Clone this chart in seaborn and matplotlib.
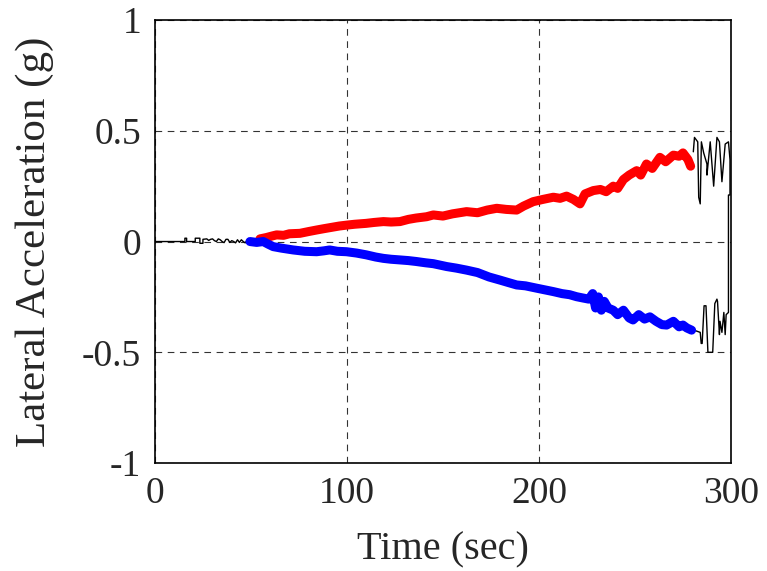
import pandas as pd
import matplotlib
matplotlib.use("Agg")
import matplotlib.pyplot as plt
import seaborn as sns

# curva positiva (rojo)
t_rojo = [54.7, 58, 61, 63.4, 67, 70, 75.5, 80, 84.2, 88, 92, 96, 99.8, 104, 110, 114, 119, 123,
          127.6, 132, 136, 141.5, 145, 150, 155, 162.3, 168, 173, 178, 183, 188.4, 192, 197, 202,
          207.5, 211, 214.4, 218, 221.4, 224, 228.3, 232, 235, 238.7, 241, 244, 247, 250.9, 253,
          256, 259, 263, 266, 270, 273, 275, 277.6, 279]
v_rojo = [0.012, 0.018, 0.025, 0.03, 0.028, 0.035, 0.037, 0.045, 0.052, 0.058, 0.064, 0.07, 0.074,
          0.078, 0.082, 0.086, 0.09, 0.088, 0.09, 0.1, 0.106, 0.112, 0.12, 0.115, 0.125, 0.135,
          0.13, 0.142, 0.15, 0.145, 0.142, 0.16, 0.18, 0.19, 0.2, 0.195, 0.205, 0.19, 0.17, 0.215,
          0.23, 0.235, 0.225, 0.25, 0.24, 0.28, 0.3, 0.32, 0.3, 0.35, 0.33, 0.38, 0.36, 0.39, 0.385,
          0.40, 0.37, 0.34]

# curva negativa (azul)
t_azul = [49.5, 53, 56.4, 59, 61.6, 66, 72, 78, 84.2, 88, 91, 95, 99.8, 105, 110, 115, 119, 123,
          127.6, 132, 136, 141, 145, 152, 157, 162.3, 168, 174, 179.7, 184, 188.4, 193, 198.5, 203,
          207.5, 212, 216, 219.6, 223, 226, 228, 229.5, 231, 232.5, 234, 236, 238.7, 241, 244, 247,
          249, 252, 255, 257.8, 261, 264, 266.5, 270, 273, 275, 277, 279.5]
v_azul = [0.0, -0.004, 0.0, -0.012, -0.023, -0.03, -0.038, -0.044, -0.046, -0.042, -0.038, -0.044,
          -0.046, -0.052, -0.06, -0.07, -0.076, -0.08, -0.083, -0.086, -0.09, -0.096, -0.1, -0.113,
          -0.12, -0.129, -0.14, -0.16, -0.174, -0.185, -0.196, -0.2, -0.21, -0.218, -0.226, -0.235,
          -0.24, -0.249, -0.255, -0.26, -0.235, -0.3, -0.25, -0.31, -0.27, -0.3, -0.31, -0.33,
          -0.31, -0.345, -0.354, -0.33, -0.35, -0.34, -0.36, -0.375, -0.377, -0.36, -0.385, -0.377,
          -0.39, -0.40]

# traza negra: inicio (ruido cerca de cero) y oscilaciones al final
t_negro_ini = [0, 15.6, 15.6, 16.5, 16.5, 21, 21, 23.4, 23.4, 25, 25, 27, 28, 29, 30, 31, 32, 33,
               34, 35, 36, 37, 38, 39, 40, 41, 42, 43, 44, 45, 46, 47, 48, 49, 50, 51, 52]
v_negro_ini = [0, 0, 0.015, 0.015, 0, 0, 0.015, 0.015, -0.008, -0.008, 0.01, 0.012, 0.005, 0.01,
               0.012, 0.004, 0.0, 0.012, 0.008, 0.0, -0.005, 0.01, 0.01, -0.004, 0.004, 0.0, -0.006,
               0.008, -0.004, 0.008, 0.0, -0.006, 0.006, 0.0, 0.004, 0.0, 0.0]

t_negro_fin = [280.4, 281, 282.7, 283.2, 284.0, 284.6, 285.8, 287.5, 287.5, 289.2, 291, 292.7,
               294, 295.3, 297, 298.7, 299.5, 299.5, 298.7, 298.7, 297.5, 297.0, 296.3, 295.3,
               294.3, 294.0, 293.0, 292.7, 291.6, 290.5, 289.8, 288.0, 287.0, 286.0, 285.0, 284.5,
               284.0, 280.7]
v_negro_fin = [0.405, 0.47, 0.45, 0.20, 0.17, 0.45, 0.40, 0.35, 0.30, 0.45, 0.25, 0.47, 0.45,
               0.27, 0.44, 0.45, 0.37, 0.21, 0.21, -0.32, -0.33, -0.42, -0.32, -0.41, -0.36, -0.42,
               -0.27, -0.26, -0.28, -0.50, -0.50, -0.50, -0.29, -0.29, -0.46, -0.46, -0.41, -0.40]

df_rojo = pd.DataFrame({"t": t_rojo, "v": v_rojo})
df_azul = pd.DataFrame({"t": t_azul, "v": v_azul})
df_ini = pd.DataFrame({"t": t_negro_ini, "v": v_negro_ini})
df_fin = pd.DataFrame({"t": t_negro_fin, "v": v_negro_fin})

sns.set_style("white")
plt.rcParams["font.family"] = ["Liberation Serif", "DejaVu Serif"]

fig = plt.figure(figsize=(7.67, 5.71), dpi=100)
ax = fig.add_axes([0.202, 0.189, 0.751, 0.776])

sns.lineplot(data=df_ini, x="t", y="v", color="black", linewidth=1.0, sort=False, estimator=None, ax=ax)
sns.lineplot(data=df_fin, x="t", y="v", color="black", linewidth=1.0, sort=False, estimator=None, ax=ax)
sns.lineplot(data=df_rojo, x="t", y="v", color="red", linewidth=6.5, sort=False, estimator=None, ax=ax)
sns.lineplot(data=df_azul, x="t", y="v", color="blue", linewidth=6.5, sort=False, estimator=None, ax=ax)

ax.set_xlim(0, 300)
ax.set_ylim(-1, 1)
ax.set_xticks([0, 100, 200, 300])
ax.set_yticks([-1, -0.5, 0, 0.5, 1])
ax.set_yticklabels(["-1", "-0.5", "0", "0.5", "1"])
ax.grid(True, color="black", linestyle=(0, (6, 5)), linewidth=0.8, alpha=0.8)
ax.tick_params(labelsize=27, direction="in", length=4, width=1, pad=10)
for s in ax.spines.values():
    s.set_color("black")
    s.set_linewidth(1.2)

ax.set_xlabel("Time (sec)", fontsize=29, labelpad=14)
ax.set_ylabel("Lateral Acceleration (g)", fontsize=31, labelpad=20)

fig.savefig("out.png", dpi=100)
